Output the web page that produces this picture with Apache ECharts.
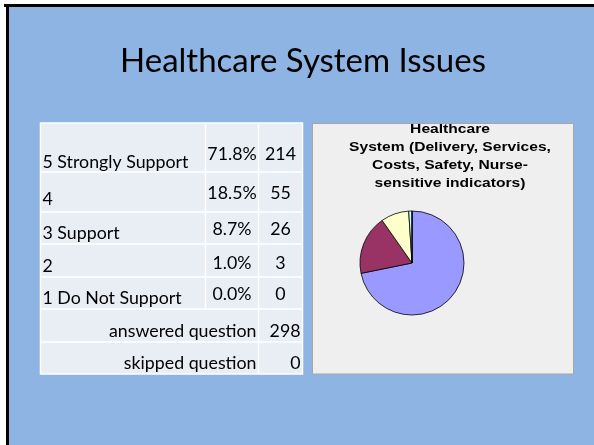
<!DOCTYPE html>
<html><head><meta charset="utf-8">
<script src="https://cdn.jsdelivr.net/npm/echarts@6/dist/echarts.min.js"></script>
<style>html,body{margin:0;padding:0;background:#fff}#c{width:594px;height:445px}</style>
</head><body><div id="c"></div>
<script>
// ---- data ----
const slideTitle = 'Healthcare System Issues';
const chartTitle = 'Healthcare\nSystem (Delivery, Services,\nCosts, Safety, Nurse-\nsensitive indicators)';
const categories = ['5 Strongly Support', '4', '3 Support', '2', '1 Do Not Support'];
const percents = ['71.8%', '18.5%', '8.7%', '1.0%', '0.0%'];
const counts = [214, 55, 26, 3, 0];
const summaryLabels = ['answered question', 'skipped question'];
const summaryValues = [298, 0];
const sliceColors = ['#9999FF', '#993366', '#FFFFCC', '#CCFFFF', '#660066'];

// ---- layout ----
const FAM = 'Lato, "Open Sans", sans-serif';
function fitSize(text, family, weight, target) {
  const ctx = document.createElement('canvas').getContext('2d');
  ctx.font = weight + ' 100px ' + family;
  return 100 * target / ctx.measureText(text).width;
}
const titleSize = fitSize(slideTitle, FAM, 'normal', 366);
const cellSize = fitSize(categories[0], FAM, 'normal', 146);
const cellFont = cellSize.toFixed(2) + 'px ' + FAM;

const colX = [40.5, 205.5, 258.5, 302.5];
const rowY = [123, 172, 212, 244, 277, 309, 342, 374];
const labelOff = [10, 12.5, 11, 10.5, 11];
const numOff = [18, 19, 15, 14, 15];

const g = [];
// slide frame
g.push({type: 'rect', shape: {x: 4, y: 4, width: 594, height: 3}, style: {fill: '#000'}, silent: true});
g.push({type: 'rect', shape: {x: 6, y: 4, width: 3, height: 445}, style: {fill: '#000'}, silent: true});
g.push({type: 'rect', shape: {x: 9, y: 7, width: 594, height: 445}, style: {fill: '#8EB4E3'}, silent: true});
// chart panel
g.push({type: 'rect', shape: {x: 312.5, y: 123.5, width: 261, height: 250.5}, style: {fill: '#EFEFEF', stroke: '#A6A6A6', lineWidth: 1}, silent: true});
// table background
g.push({type: 'rect', shape: {x: colX[0], y: rowY[0], width: colX[3] - colX[0], height: rowY[7] - rowY[0]}, style: {fill: '#E9EDF4', stroke: '#FFFFFF', lineWidth: 1.5}, silent: true});
for (let i = 1; i < rowY.length - 1; i++) {
  g.push({type: 'line', shape: {x1: colX[0], y1: rowY[i], x2: colX[3], y2: rowY[i]}, style: {stroke: '#FFFFFF', lineWidth: 1.5}, silent: true});
}
g.push({type: 'line', shape: {x1: colX[1], y1: rowY[0], x2: colX[1], y2: rowY[5]}, style: {stroke: '#FFFFFF', lineWidth: 1.5}, silent: true});
g.push({type: 'line', shape: {x1: colX[2], y1: rowY[0], x2: colX[2], y2: rowY[7]}, style: {stroke: '#FFFFFF', lineWidth: 1.5}, silent: true});
// table texts
categories.forEach((c, i) => {
  const b = rowY[i + 1];
  g.push({type: 'text', style: {text: c, x: colX[0] + 2, y: b - labelOff[i], font: cellFont, fill: '#000', textAlign: 'left', textVerticalAlign: 'middle'}, silent: true});
  g.push({type: 'text', style: {text: percents[i], x: (colX[1] + colX[2]) / 2, y: b - numOff[i], font: cellFont, fill: '#000', textAlign: 'center', textVerticalAlign: 'middle'}, silent: true});
  g.push({type: 'text', style: {text: String(counts[i]), x: (colX[2] + colX[3]) / 2, y: b - numOff[i], font: cellFont, fill: '#000', textAlign: 'center', textVerticalAlign: 'middle'}, silent: true});
});
summaryLabels.forEach((s, i) => {
  const b = rowY[6 + i];
  g.push({type: 'text', style: {text: s, x: colX[2] - 2, y: b - 11, font: cellFont, fill: '#000', textAlign: 'right', textVerticalAlign: 'middle'}, silent: true});
  g.push({type: 'text', style: {text: String(summaryValues[i]), x: colX[3] - 2, y: b - 11, font: cellFont, fill: '#000', textAlign: 'right', textVerticalAlign: 'middle'}, silent: true});
});
// pie chart title (slightly horizontally stretched, as in the reference)
g.push({type: 'text', x: 450, y: 120, scaleX: 1.2, silent: true, z: 10,
  style: {text: chartTitle, x: 0, y: 0, font: 'bold 13px "Liberation Sans", Arial, sans-serif', lineHeight: 18, fill: '#000', textAlign: 'center', textVerticalAlign: 'top'}});

const chart = echarts.init(document.getElementById('c'), null, {renderer: 'canvas'});
chart.setOption({
  animation: false,
  backgroundColor: '#FFFFFF',
  title: {text: slideTitle, left: 303, top: 61 - titleSize * 0.6, textAlign: 'center', padding: 0,
    textStyle: {fontFamily: FAM, fontWeight: 'normal', fontSize: titleSize, color: '#000', lineHeight: titleSize * 1.2}},
  graphic: {elements: g},
  series: [{
    type: 'pie',
    center: [412, 263],
    radius: 52,
    startAngle: 90,
    clockwise: true,
    label: {show: false},
    labelLine: {show: false},
    emphasis: {disabled: true},
    itemStyle: {borderColor: '#000', borderWidth: 0.8},
    data: categories.map((c, i) => ({name: c, value: counts[i], itemStyle: {color: sliceColors[i]}}))
  }]
});
</script>
</body></html>
